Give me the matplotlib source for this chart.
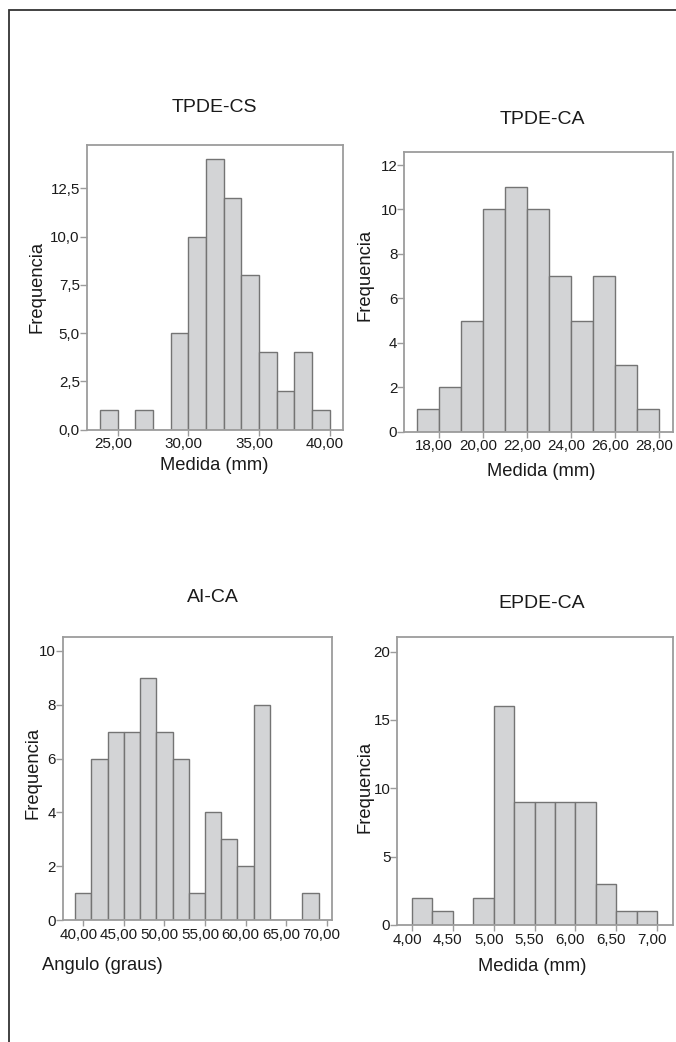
import matplotlib
matplotlib.use("Agg")
from matplotlib import pyplot as plt
from matplotlib.patches import Rectangle
from matplotlib.transforms import ScaledTranslation
import numpy as np

plt.rcParams['font.family'] = ['Liberation Sans', 'DejaVu Sans']

# histogram data (bin start, bin width, counts)
tpde_cs_start, tpde_cs_width = 23.75, 1.25
tpde_cs_counts = [1, 0, 1, 0, 5, 10, 14, 12, 8, 4, 2, 4, 1]

tpde_ca_start, tpde_ca_width = 17.0, 1.0
tpde_ca_counts = [1, 2, 5, 10, 11, 10, 7, 5, 7, 3, 1]

ai_ca_start, ai_ca_width = 39.0, 2.0
ai_ca_counts = [1, 6, 7, 7, 9, 7, 6, 1, 4, 3, 2, 8, 0, 0, 1]

epde_ca_start, epde_ca_width = 4.0, 0.25
epde_ca_counts = [2, 1, 0, 2, 16, 9, 9, 9, 9, 3, 1, 1]

# tick values
tpde_cs_xticks = [25, 30, 35, 40]
tpde_cs_yticks = [0, 2.5, 5, 7.5, 10, 12.5]
tpde_ca_xticks = [18, 20, 22, 24, 26, 28]
tpde_ca_yticks = [0, 2, 4, 6, 8, 10, 12]
ai_ca_xticks = [40, 45, 50, 55, 60, 65, 70]
ai_ca_yticks = [0, 2, 4, 6, 8, 10]
epde_ca_xticks = [4.0, 4.5, 5.0, 5.5, 6.0, 6.5, 7.0]
epde_ca_yticks = [0, 5, 10, 15, 20]

W, H = 676, 1042
fig = plt.figure(figsize=(W / 100, H / 100), dpi=100)

BAR_FACE = "#d3d4d6"
BAR_EDGE = "#747474"
FRAME = "#9c9c9c"
TXT = "#1a1a1a"


def px_axes(left, right, top, bottom):
    return fig.add_axes([left / W, 1 - bottom / H, (right - left) / W, (bottom - top) / H])


def comma(v, nd):
    return f"{v:.{nd}f}".replace(".", ",")


def hist_panel(ax, start, width, counts, xlim, ylim, xticks, yticks, xdec, ydec,
               xlabel, xlab_pos, ylab_pos):
    counts = np.array(counts)
    lefts = start + width * np.arange(len(counts))
    ax.bar(lefts, counts, width=width, align="edge", color=BAR_FACE,
           edgecolor=BAR_EDGE, linewidth=1.0, zorder=2)
    ax.set_xlim(*xlim)
    ax.set_ylim(*ylim)
    ax.set_xticks(xticks)
    ax.set_xticklabels([comma(v, xdec) for v in xticks])
    ax.set_yticks(yticks)
    ax.set_yticklabels([comma(v, ydec) for v in yticks])
    for s in ax.spines.values():
        s.set_color(FRAME)
        s.set_linewidth(1.3)
    ax.tick_params(axis="both", colors=FRAME, labelcolor=TXT, labelsize=10.9,
                   width=1.0, direction="out")
    ax.tick_params(axis="y", length=5, pad=0)
    ax.tick_params(axis="x", length=4.5, pad=1)
    # x tick labels sit a little left of their ticks in the original
    shift = ScaledTranslation(-5 / 100, 0, fig.dpi_scale_trans)
    for lab in ax.get_xticklabels():
        lab.set_transform(lab.get_transform() + shift)
    ax.set_xlabel(xlabel, fontsize=13.2, color=TXT)
    ax.xaxis.set_label_coords(*xlab_pos)
    ax.xaxis.label.set_va("center")
    ax.set_ylabel("Frequencia", fontsize=13.2, color=TXT)
    ax.yaxis.set_label_coords(*ylab_pos)
    ax.yaxis.label.set_va("center")


ax1 = px_axes(86.7, 342.7, 145, 429.7)
hist_panel(ax1, tpde_cs_start, tpde_cs_width, tpde_cs_counts, (22.8, 40.92), (0, 14.75),
           tpde_cs_xticks, tpde_cs_yticks, 2, 1, "Medida (mm)", (0.5, -0.124), (-0.194, 0.5))

ax2 = px_axes(404.3, 672.7, 151.7, 431.7)
hist_panel(ax2, tpde_ca_start, tpde_ca_width, tpde_ca_counts, (16.41, 28.6), (0, 12.6),
           tpde_ca_xticks, tpde_ca_yticks, 2, 0, "Medida (mm)", (0.51, -0.143), (-0.146, 0.56))

ax3 = px_axes(62.7, 331.7, 636.7, 920)
hist_panel(ax3, ai_ca_start, ai_ca_width, ai_ca_counts, (37.45, 70.62), (0, 10.53),
           ai_ca_xticks, ai_ca_yticks, 2, 0, "Angulo (graus)", (0.146, -0.162), (-0.110, 0.519))

ax4 = px_axes(397.3, 672.7, 637.3, 925)
hist_panel(ax4, epde_ca_start, epde_ca_width, epde_ca_counts, (3.82, 7.19), (0, 21.05),
           epde_ca_xticks, epde_ca_yticks, 2, 0, "Medida (mm)", (0.489, -0.143), (-0.117, 0.48))

# panel titles
for txt, x, y in [("TPDE-CS", 214, 108), ("TPDE-CA", 542, 120),
                  ("AI-CA", 213, 598), ("EPDE-CA", 542, 603)]:
    fig.text(x / W, 1 - y / H, txt, ha="center", va="center", fontsize=14, color=TXT)

# outer border of the figure panel
fig.add_artist(Rectangle((8.5 / W, -0.05), 1.2, 1 - 10 / H + 0.05,
                         transform=fig.transFigure, fill=False,
                         edgecolor="#333333", linewidth=1.3))

fig.savefig("out.png", dpi=100)
